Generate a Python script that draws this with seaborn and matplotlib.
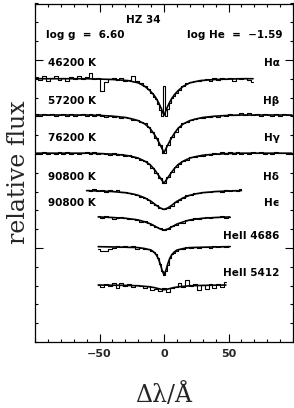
import matplotlib
matplotlib.use('Agg')
import matplotlib.pyplot as plt
import matplotlib.ticker as tck
import numpy as np
import pandas as pd
import seaborn as sns

# wavelength grids (delta lambda in Angstrom)
dl_wide = [-99, -96, -93, -90, -87, -84, -81, -78, -75, -72, -69, -66, -63, -60, -57, -54, -51,
           -48, -45, -42, -39, -36, -33, -30, -27, -24, -21, -18, -15, -12, -9, -6, -3, 0,
           3, 6, 9, 12, 15, 18, 21, 24, 27, 30, 33, 36, 39, 42, 45, 48, 51, 54, 57, 60, 63,
           66, 69, 72, 75, 78, 81, 84, 87, 90, 93, 96, 99]
dl_halpha = [-99, -96, -93, -90, -87, -84, -81, -78, -75, -72, -69, -66, -63, -60, -57, -54, -51,
             -48, -45, -42, -39, -36, -33, -30, -27, -24, -21, -18, -15, -12, -9,
             -7.5, -6, -4.5, -3, -1.5, 0, 1.5, 3, 4.5, 6, 7.5,
             9, 12, 15, 18, 21, 24, 27, 30, 33, 36, 39, 42, 45, 48, 51, 54, 57, 60, 63, 66, 69]
dl_hdelta = [-60, -57, -54, -51, -48, -45, -42, -39, -36, -33, -30, -27, -24, -21, -18, -15, -12,
             -9, -6, -3, 0, 3, 6, 9, 12, 15, 18, 21, 24, 27, 30, 33, 36, 39, 42, 45, 48, 51,
             54, 57, 60]
dl_narrow = [-51, -48, -45, -42, -39, -36, -33, -30, -27, -24, -21, -18, -15, -12, -9, -6, -3, 0,
             3, 6, 9, 12, 15, 18, 21, 24, 27, 30, 33, 36, 39, 42, 45, 48, 51]
dl_4686 = [-51, -48, -45, -42, -39, -36, -33, -30, -27, -24, -21, -18, -15, -12, -9,
           -7.5, -6, -4.5, -3, -1.5, 0, 1.5, 3, 4.5, 6, 7.5,
           9, 12, 15, 18, 21, 24, 27, 30, 33, 36, 39, 42, 45, 48, 51]
dl_5412 = dl_narrow[:-1]

# observed normalized spectra
obs_halpha = [1.008, 0.995, 1.012, 0.99, 1.006, 1.015, 0.993, 1.004, 0.988, 1.01, 1.0, 1.012, 0.996,
              1.01, 1.03, 1.0, 1.005, 0.935, 0.985, 1.0, 1.003, 0.995, 1.005, 0.99, 0.992, 1.012,
              0.99, 0.975, 0.962, 0.945, 0.925,
              0.905, 0.89, 0.865, 0.835, 0.8, 0.96, 0.8, 0.84, 0.87, 0.895, 0.91,
              0.925, 0.94, 0.962, 0.975, 0.985, 0.99, 0.99, 0.995, 1.0, 0.99, 1.003, 0.995,
              1.005, 0.998, 1.002, 0.99, 1.004, 0.996, 1.006, 0.992, 0.985]
obs_hbeta = [1.004, 0.996, 1.003, 1.0, 1.006, 0.995, 1.002, 1.008, 0.997, 1.004, 0.994, 1.0, 1.005,
             0.996, 1.003, 0.993, 1.004, 0.997, 0.99, 0.997, 0.99, 0.994, 0.983, 0.99, 0.985,
             0.976, 0.975, 0.962, 0.955, 0.934, 0.912, 0.88, 0.842, 0.798, 0.838, 0.882, 0.908,
             0.937, 0.955, 0.962, 0.975, 0.978, 0.985, 0.982, 0.992, 0.99, 0.996, 0.99, 1.0,
             0.995, 1.004, 0.998, 1.002, 1.01, 1.0, 1.012, 0.998, 1.005, 0.996, 1.004, 1.0,
             0.995, 1.004, 0.997, 1.003, 0.999, 1.002]
obs_hgamma = [1.002, 0.996, 1.005, 0.998, 1.003, 0.995, 1.004, 0.998, 1.006, 0.997, 1.003, 0.994,
              1.002, 1.008, 0.997, 1.004, 0.995, 1.003, 0.998, 0.992, 1.0, 0.99, 0.995, 0.985,
              0.988, 0.978, 0.976, 0.966, 0.958, 0.94, 0.922, 0.897, 0.868, 0.842, 0.872, 0.9,
              0.928, 0.94, 0.96, 0.966, 0.978, 0.98, 0.987, 0.986, 0.995, 0.99, 1.0, 0.994,
              1.004, 0.997, 1.005, 0.998, 1.006, 0.998, 1.003, 0.996, 1.005, 1.0, 1.006, 0.997,
              1.003, 0.996, 1.004, 0.999, 1.003, 0.996, 1.002]
obs_hdelta = [1.002, 0.998, 1.006, 1.0, 1.004, 0.994, 1.002, 0.997, 1.004, 0.99, 0.992, 0.985,
              0.982, 0.978, 0.968, 0.96, 0.95, 0.935, 0.922, 0.908, 0.9, 0.91, 0.92, 0.94, 0.948,
              0.962, 0.975, 0.976, 0.985, 0.988, 0.99, 0.995, 0.99, 0.998, 1.0, 0.994, 1.003,
              0.998, 1.004, 1.0, 1.006]
obs_hepsilon = [1.004, 0.996, 1.006, 1.0, 0.99, 0.996, 1.002, 0.993, 0.99, 0.99, 0.986, 0.975,
                0.978, 0.966, 0.958, 0.945, 0.94, 0.928, 0.936, 0.95, 0.955, 0.97, 0.97, 0.983,
                0.985, 0.995, 0.988, 0.995, 1.0, 0.994, 1.002, 0.998, 1.004, 0.997, 1.002]
obs_4686 = [0.99, 0.975, 0.976, 0.99, 0.995, 1.002, 0.996, 1.004, 0.998, 1.003, 0.99, 0.992, 0.986,
            0.99, 0.978, 0.972, 0.96, 0.94, 0.91, 0.87, 0.85, 0.87, 0.905, 0.94, 0.96, 0.965,
            0.976, 0.985, 0.99, 0.998, 0.992, 1.0, 0.994, 1.0, 0.996, 0.993, 1.002, 0.997,
            1.004, 0.998, 1.002]
obs_5412 = [1.0, 0.99, 1.006, 0.995, 1.012, 0.985, 1.01, 0.993, 1.004, 0.99, 1.002, 0.995, 0.985,
            0.995, 0.975, 0.98, 0.97, 0.982, 0.965, 0.985, 0.992, 1.01, 0.99, 1.025, 0.995,
            1.008, 0.975, 1.002, 0.98, 1.004, 0.985, 1.006, 0.992, 1.015]

# model profiles
mod_halpha_x = [-99, -60, -40, -28, -20, -15, -11, -8, -6, -4, -2, 0, 2, 4, 6, 8, 11, 15, 20, 28, 40, 60, 69]
mod_halpha = [1.0, 1.0, 0.996, 0.99, 0.978, 0.96, 0.937, 0.915, 0.895, 0.87, 0.84, 0.805, 0.84, 0.87,
              0.895, 0.915, 0.937, 0.96, 0.978, 0.99, 0.996, 1.0, 1.0]
mod_hbg_x = [-99, -60, -50, -40, -30, -24, -20, -15, -11, -8, -6, -4, -2, 0, 2, 4, 6, 8, 11, 15, 20,
             24, 30, 40, 50, 60, 99]
mod_hbeta = [1.0, 1.0, 0.998, 0.994, 0.987, 0.978, 0.97, 0.953, 0.93, 0.902, 0.88, 0.855, 0.828, 0.8,
             0.828, 0.855, 0.88, 0.902, 0.93, 0.953, 0.97, 0.978, 0.987, 0.994, 0.998, 1.0, 1.0]
mod_hgamma = [1.0, 1.0, 0.998, 0.995, 0.989, 0.981, 0.974, 0.958, 0.94, 0.918, 0.9, 0.88, 0.86, 0.84,
              0.86, 0.88, 0.9, 0.918, 0.94, 0.958, 0.974, 0.981, 0.989, 0.995, 0.998, 1.0, 1.0]
mod_hdelta_x = [-60, -50, -40, -30, -24, -20, -15, -10, -6, -3, 0, 3, 6, 10, 15, 20, 24, 30, 40, 50, 60]
mod_hdelta = [1.0, 0.998, 0.995, 0.989, 0.982, 0.975, 0.962, 0.943, 0.922, 0.908, 0.9, 0.908, 0.922,
              0.943, 0.962, 0.975, 0.982, 0.989, 0.995, 0.998, 1.0]
mod_hepsilon_x = [-51, -40, -30, -24, -20, -15, -10, -6, -3, 0, 3, 6, 10, 15, 20, 24, 30, 40, 51]
mod_hepsilon = [1.0, 0.997, 0.993, 0.988, 0.984, 0.974, 0.962, 0.947, 0.936, 0.93, 0.936, 0.947,
                0.962, 0.974, 0.984, 0.988, 0.993, 0.997, 1.0]
mod_4686_x = [-51, -30, -20, -15, -10, -8, -6, -4.5, -3, -1.5, 0, 1.5, 3, 4.5, 6, 8, 10, 15, 20, 30, 51]
mod_4686 = [1.0, 0.997, 0.995, 0.99, 0.982, 0.972, 0.957, 0.938, 0.91, 0.875, 0.85, 0.875, 0.91,
            0.938, 0.957, 0.972, 0.982, 0.99, 0.995, 0.997, 1.0]
mod_5412_x = [-51, -30, -20, -12, -8, -5, -2, 0, 2, 5, 8, 12, 20, 30, 48]
mod_5412 = [1.0, 0.998, 0.996, 0.991, 0.987, 0.982, 0.977, 0.975, 0.977, 0.982, 0.987, 0.991, 0.996,
            0.998, 1.0]

lines = ['H\u03b1', 'H\u03b2', 'H\u03b3', 'H\u03b4', 'H\u03f5', 'HeII 4686', 'HeII 5412']
temps = ['46200 K', '57200 K', '76200 K', '90800 K', '90800 K', None, None]
offsets = [1.40, 1.207, 1.004, 0.805, 0.665, 0.507, 0.303]   # continuum level in the plot
label_y = [1.484, 1.282, 1.085, 0.878, 0.739, 0.564, 0.367]
xtick_vals = [-50, 0, 50]

spectra = [(dl_halpha, obs_halpha, mod_halpha_x, mod_halpha),
           (dl_wide, obs_hbeta, mod_hbg_x, mod_hbeta),
           (dl_wide, obs_hgamma, mod_hbg_x, mod_hgamma),
           (dl_hdelta, obs_hdelta, mod_hdelta_x, mod_hdelta),
           (dl_narrow, obs_hepsilon, mod_hepsilon_x, mod_hepsilon),
           (dl_4686, obs_4686, mod_4686_x, mod_4686),
           (dl_5412, obs_5412, mod_5412_x, mod_5412)]

sns.set_style('ticks')
plt.rcParams['font.family'] = ['DejaVu Sans']
plt.rcParams['xtick.direction'] = 'in'
plt.rcParams['ytick.direction'] = 'in'

fig = plt.figure(figsize=(2.94, 4.08), dpi=100)
ax = fig.add_axes([35 / 294, 66 / 408, 258 / 294, 338.5 / 408])

for (xo, yo, xm, ym), off in zip(spectra, offsets):
    obs = pd.DataFrame({'dl': xo, 'flux': np.array(yo) + off - 1})
    mod = pd.DataFrame({'dl': xm, 'flux': np.array(ym) + off - 1})
    sns.lineplot(data=obs, x='dl', y='flux', ax=ax, color='k', lw=0.8,
                 drawstyle='steps-mid', sort=False, estimator=None)
    sns.lineplot(data=mod, x='dl', y='flux', ax=ax, color='k', lw=1.2,
                 sort=False, estimator=None)

txt = dict(fontsize=7.5, fontweight='bold', color='k', va='center')
for name, t, yl in zip(lines, temps, label_y):
    ax.text(89.5, yl, name, ha='right', **txt)
    if t is not None:
        ax.text(-90, yl, t, ha='left', **txt)
ax.text(-16, 1.713, 'HZ 34', ha='center', **txt)
ax.text(-91.5, 1.633, 'log g  =  6.60', ha='left', **txt)
ax.text(91.5, 1.633, 'log He  =  \u22121.59', ha='right', **txt)

ax.set_xlim(-100, 100)
ax.set_ylim(0, 1.8)
ax.xaxis.set_major_locator(tck.FixedLocator(xtick_vals))
ax.xaxis.set_minor_locator(tck.MultipleLocator(10))
ax.yaxis.set_major_locator(tck.FixedLocator([0.5, 1.5]))
ax.yaxis.set_minor_locator(tck.MultipleLocator(0.1))
ax.tick_params(which='both', top=True, right=True, width=0.8, color='k')
ax.tick_params(which='major', length=5.5)
ax.tick_params(which='minor', length=2.5)
ax.tick_params(axis='x', labelsize=8, pad=5)
ax.tick_params(axis='y', labelleft=False)
for lab in ax.get_xticklabels():
    lab.set_fontweight('bold')
for sp in ax.spines.values():
    sp.set_linewidth(0.9)
    sp.set_color('k')

ax.set_xlabel('\u0394\u03bb/\u00c5', fontsize=17, family='DejaVu Serif')
ax.set_ylabel('relative flux', fontsize=17, family='DejaVu Serif')
ax.xaxis.set_label_coords(0.5, -0.122)
ax.yaxis.set_label_coords(-0.02, 0.502)

plt.savefig('out.png', dpi=100)
